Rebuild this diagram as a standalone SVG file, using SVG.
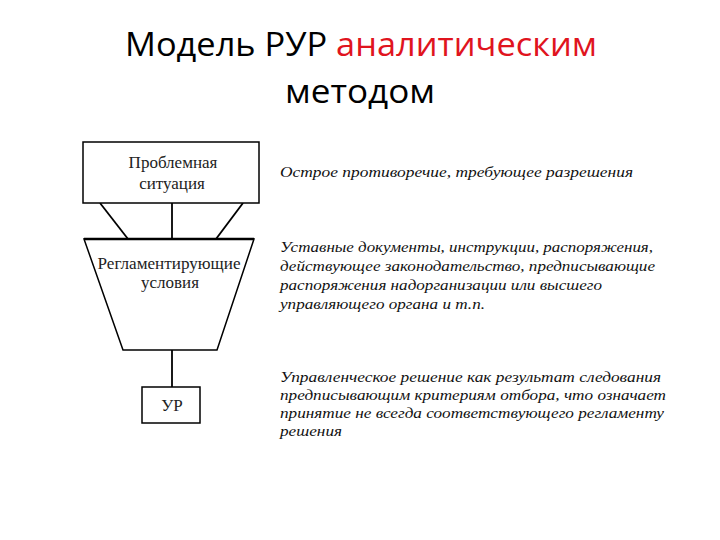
<svg xmlns="http://www.w3.org/2000/svg" width="720" height="540" viewBox="0 0 720 540">
<style>
.title{font-family:"Open Sans","Liberation Sans",sans-serif;font-size:32px;fill:#000}
.red{fill:#e0141e}
.node{font-family:"Liberation Serif","DejaVu Serif",serif;font-size:17px;fill:#222;text-anchor:middle}
.desc{font-family:"Liberation Serif","DejaVu Serif",serif;font-style:italic;font-size:15px;fill:#111}
.shape{fill:#fff;stroke:#000;stroke-width:1.5}
.conn{stroke:#000;stroke-width:1.8;fill:none}
</style>
<rect width="720" height="540" fill="#fff"/>
<text class="title" x="361" y="56" text-anchor="middle" textLength="472" lengthAdjust="spacingAndGlyphs">Модель РУР <tspan class="red">аналитическим</tspan></text>
<text class="title" x="360" y="103" text-anchor="middle" textLength="150" lengthAdjust="spacingAndGlyphs">методом</text>
<g id="connectors">
<line class="conn" x1="100" y1="203" x2="128" y2="239"/>
<line class="conn" x1="243" y1="203" x2="216" y2="239"/>
<line class="conn" x1="172" y1="203" x2="172" y2="239"/>
<line class="conn" x1="172" y1="350" x2="172" y2="387"/>
</g>
<g id="problem">
<rect class="shape" x="83" y="142" width="176" height="61"/>
<text class="node" x="173" y="168">Проблемная</text>
<text class="node" x="172" y="189">ситуация</text>
</g>
<g id="conditions">
<polygon class="shape" points="84,239 254,239 217,350 123,350"/>
<line x1="84" y1="239" x2="254" y2="239" stroke="#000" stroke-width="2.5"/>
<text class="node" x="169" y="269" textLength="143" lengthAdjust="spacingAndGlyphs">Регламентирующие</text>
<text class="node" x="170" y="288">условия</text>
</g>
<g id="ur">
<rect class="shape" x="142" y="387" width="58" height="36"/>
<text class="node" x="172" y="411">УР</text>
</g>
<g id="descriptions">
<text class="desc" x="280" y="177" textLength="353" lengthAdjust="spacingAndGlyphs">Острое противоречие, требующее разрешения</text>
<text class="desc" x="280" y="252" textLength="373" lengthAdjust="spacingAndGlyphs">Уставные документы, инструкции, распоряжения,</text>
<text class="desc" x="280" y="271" textLength="375" lengthAdjust="spacingAndGlyphs">действующее законодательство, предписывающие</text>
<text class="desc" x="280" y="290" textLength="322" lengthAdjust="spacingAndGlyphs">распоряжения надорганизации или высшего</text>
<text class="desc" x="280" y="309" textLength="205" lengthAdjust="spacingAndGlyphs">управляющего органа и т.п.</text>
<text class="desc" x="280" y="382" textLength="381" lengthAdjust="spacingAndGlyphs">Управленческое решение  как результат следования</text>
<text class="desc" x="280" y="400" textLength="386" lengthAdjust="spacingAndGlyphs">предписывающим критериям отбора, что означает</text>
<text class="desc" x="280" y="418" textLength="384" lengthAdjust="spacingAndGlyphs">принятие не всегда соответствующего регламенту</text>
<text class="desc" x="280" y="436" textLength="62" lengthAdjust="spacingAndGlyphs">решения</text>
</g>
</svg>
